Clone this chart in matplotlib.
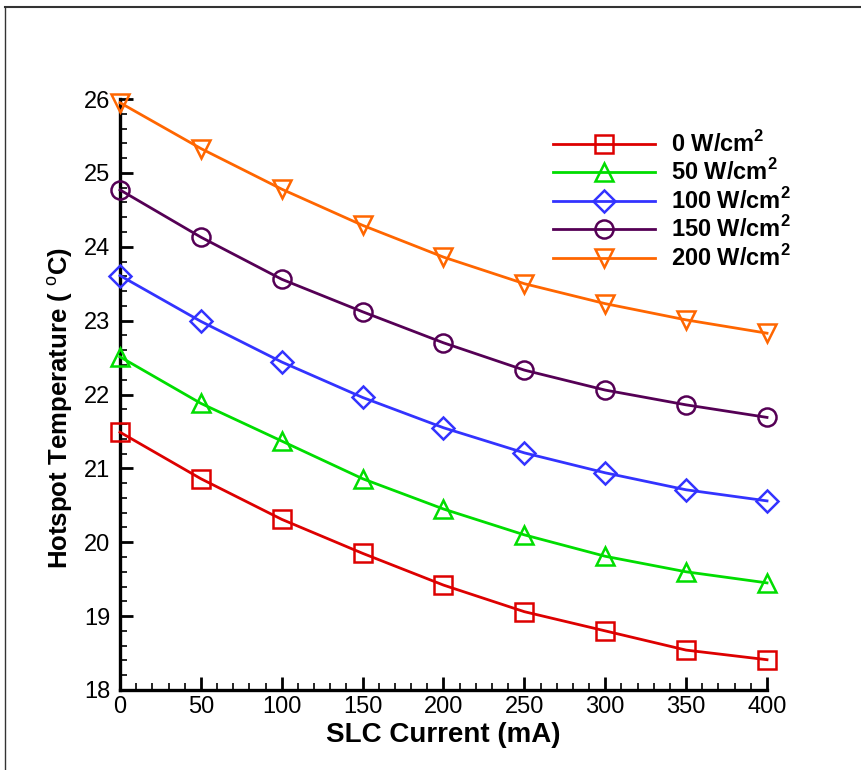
import matplotlib
matplotlib.use("Agg")
import matplotlib.pyplot as plt
from matplotlib.lines import Line2D
from matplotlib.ticker import MultipleLocator

plt.rcParams["font.family"] = ["Liberation Sans", "DejaVu Sans"]
plt.rcParams["mathtext.fontset"] = "custom"
plt.rcParams["mathtext.rm"] = "Liberation Sans"
plt.rcParams["mathtext.bf"] = "Liberation Sans:bold"

# SLC current (mA)
current = [0, 50, 100, 150, 200, 250, 300, 350, 400]

# hotspot temperature (C) for each heat flux
t_0 = [21.49, 20.86, 20.31, 19.85, 19.42, 19.06, 18.80, 18.54, 18.41]
t_50 = [22.51, 21.88, 21.37, 20.86, 20.45, 20.10, 19.81, 19.60, 19.45]
t_100 = [23.61, 22.99, 22.44, 21.96, 21.55, 21.21, 20.94, 20.71, 20.56]
t_150 = [24.77, 24.13, 23.56, 23.12, 22.70, 22.33, 22.06, 21.86, 21.69]
t_200 = [25.95, 25.33, 24.78, 24.29, 23.86, 23.50, 23.23, 23.01, 22.83]

labels = [r"0 W/cm$^{\mathbf{2}}$", r"50 W/cm$^{\mathbf{2}}$",
          r"100 W/cm$^{\mathbf{2}}$", r"150 W/cm$^{\mathbf{2}}$",
          r"200 W/cm$^{\mathbf{2}}$"]

series = [
    (t_0, "#dd0000", "s"),
    (t_50, "#00dd00", "^"),
    (t_100, "#3333ff", "D"),
    (t_150, "#550055", "o"),
    (t_200, "#ff6600", "v"),
]

fig = plt.figure(figsize=(8.62, 7.7), dpi=100)
ax = fig.add_axes([0.1392, 0.1039, 0.7506, 0.7675])

for (temps, color, marker), label in zip(series, labels):
    ms = 11.5 if marker == "D" else 13
    ax.plot(current, temps, color=color, lw=2, marker=marker,
            markersize=ms, markerfacecolor="none", markeredgecolor=color,
            markeredgewidth=1.8, label=label, clip_on=False, zorder=3)

ax.set_xlim(0, 400)
ax.set_ylim(18, 26)
ax.xaxis.set_major_locator(MultipleLocator(50))
ax.xaxis.set_minor_locator(MultipleLocator(10))
ax.yaxis.set_major_locator(MultipleLocator(1))
ax.yaxis.set_minor_locator(MultipleLocator(0.2))

for side in ("top", "right"):
    ax.spines[side].set_visible(False)
for side in ("left", "bottom"):
    ax.spines[side].set_linewidth(2.4)

ax.tick_params(which="major", direction="in", length=9.5, width=2,
               labelsize=17, pad=4)
ax.tick_params(which="minor", direction="in", length=5, width=1.2)
ax.tick_params(axis="y", which="major", pad=7)

ax.set_xlabel("SLC Current (mA)", fontsize=20, fontweight="bold", labelpad=3)
ax.set_ylabel(r"Hotspot Temperature ( $^{\mathrm{o}}$C)", fontsize=18.5,
              fontweight="bold")
ax.yaxis.set_label_coords(-0.069, 0.478)

ax.legend(loc="upper left", bbox_to_anchor=(0.655, 0.962), frameon=False,
          prop={"size": 17, "weight": "bold"}, handlelength=4.3,
          handletextpad=0.7, labelspacing=0.11, borderaxespad=0)

# thin frame lines along the top and left edge of the image
fig.add_artist(Line2D([0.006, 1.0], [0.991, 0.991], color="#333333", lw=1.5,
                      transform=fig.transFigure))
fig.add_artist(Line2D([0.006, 0.006], [0.0, 0.991], color="#333333", lw=1.0,
                      transform=fig.transFigure))

fig.savefig("out.png", dpi=100)
